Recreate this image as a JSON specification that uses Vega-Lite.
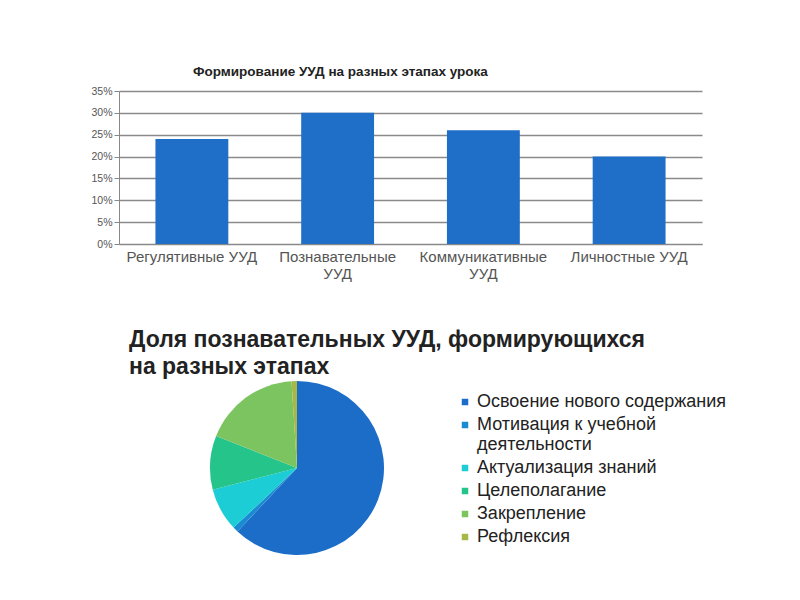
{
  "$schema": "https://vega.github.io/schema/vega-lite/v6.json",
  "background": "white",
  "padding": {"left": 90, "top": 64, "right": 5, "bottom": 5},
  "bounds": "flush",
  "spacing": 137,
  "config": {"font": "Liberation Sans", "view": {"stroke": null}},
  "vconcat": [
    {
      "width": 583,
      "height": 153,
      "title": {"text": "Формирование УУД на разных этапах урока", "fontSize": 13.5, "fontWeight": "bold", "anchor": "start", "dx": 102, "offset": 8, "color": "#222222"},
      "data": {"values": [
        {"category": "Регулятивные УУД", "value": 0.24},
        {"category": "Познавательные УУД", "value": 0.30},
        {"category": "Коммуникативные УУД", "value": 0.26},
        {"category": "Личностные УУД", "value": 0.20}
      ]},
      "mark": {"type": "bar", "color": "#1F6EC8"},
      "encoding": {
        "x": {"field": "category", "type": "nominal", "sort": null,
          "scale": {"paddingInner": 0.5, "paddingOuter": 0.25},
          "axis": {"title": null, "labelAngle": 0, "labelFontSize": 15, "labelColor": "#555555", "labelLimit": 200,
            "labelExpr": "datum.label == 'Познавательные УУД' ? ['Познавательные', 'УУД'] : datum.label == 'Коммуникативные УУД' ? ['Коммуникативные', 'УУД'] : datum.label",
            "domainColor": "#888888", "ticks": false, "labelPadding": 5, "labelLineHeight": 17}},
        "y": {"field": "value", "type": "quantitative", "scale": {"domain": [0, 0.35]},
          "axis": {"title": null, "format": ".0%", "values": [0, 0.05, 0.1, 0.15, 0.2, 0.25, 0.3, 0.35],
            "labelFontSize": 10.5, "labelColor": "#555555", "gridColor": "#8a8a8a", "gridWidth": 1.5,
            "domainColor": "#888888", "tickColor": "#888888", "tickSize": 5, "labelPadding": 2}}
      }
    },
    {
      "width": 356,
      "height": 174,
      "title": {"text": ["Доля познавательных УУД, формирующихся", "на разных этапах"], "fontSize": 23, "fontWeight": "bold", "anchor": "start", "dx": 10, "lineHeight": 27, "offset": 2, "color": "#222222"},
      "data": {"values": [
        {"stage": "Освоение нового содержания", "value": 62, "order": 1},
        {"stage": "Мотивация к учебной деятельности", "value": 1, "order": 2},
        {"stage": "Актуализация знаний", "value": 8, "order": 3},
        {"stage": "Целеполагание", "value": 10, "order": 4},
        {"stage": "Закрепление", "value": 18, "order": 5},
        {"stage": "Рефлексия", "value": 1, "order": 6}
      ]},
      "mark": {"type": "arc"},
      "encoding": {
        "theta": {"field": "value", "type": "quantitative", "stack": true},
        "order": {"field": "order", "type": "quantitative"},
        "color": {"field": "stage", "type": "nominal",
          "scale": {"domain": ["Освоение нового содержания", "Мотивация к учебной деятельности", "Актуализация знаний", "Целеполагание", "Закрепление", "Рефлексия"],
            "range": ["#1C6DC8", "#1A8AD2", "#1CCDD6", "#25C48A", "#7CC460", "#A6B845"]},
          "legend": {"title": null, "orient": "none", "legendX": 337, "legendY": 302, "labelFontSize": 18, "labelColor": "#222222", "labelLimit": 400,
            "symbolType": "square", "symbolSize": 42, "symbolStrokeWidth": 0, "rowPadding": 5, "labelOffset": 3,
            "labelExpr": "datum.label == 'Мотивация к учебной деятельности' ? ['Мотивация к учебной', 'деятельности'] : datum.label"}}
      }
    }
  ]
}
